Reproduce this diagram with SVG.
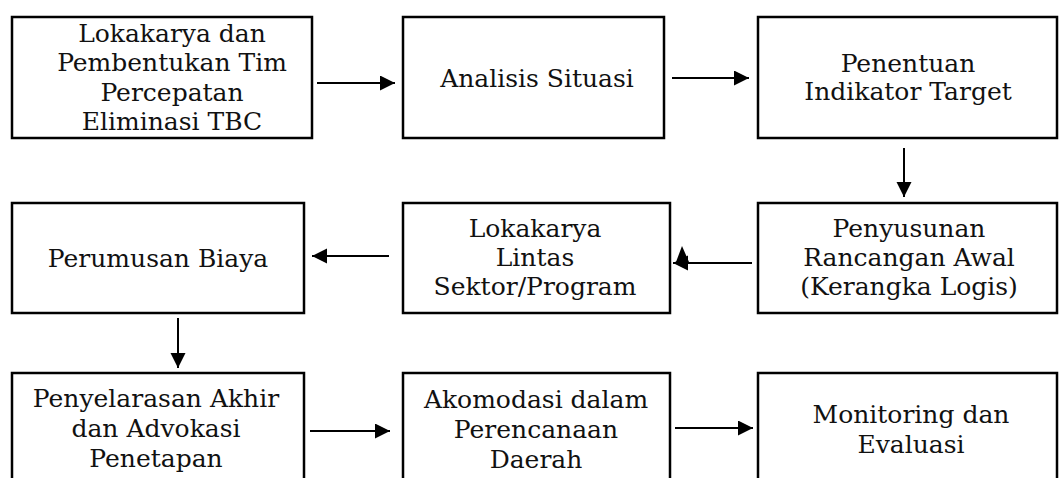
<svg xmlns="http://www.w3.org/2000/svg" width="1061" height="478" viewBox="0 0 1061 478">
<style>
.box{fill:#fff;stroke:#000;stroke-width:2.5}
.t{font-family:"DejaVu Serif","Liberation Serif",serif;font-size:25px;fill:#111;text-anchor:middle}
.c{stroke:#000;stroke-width:2;fill:none;marker-end:url(#ah)}
</style>
<defs>
<marker id="ah" markerUnits="userSpaceOnUse" markerWidth="16" markerHeight="16" refX="15" refY="7.5" orient="auto">
<path d="M0,0 L15,7.5 L0,15 z" fill="#000"/>
</marker>
</defs>
<rect width="1061" height="478" fill="#fff"/>
<g id="n1"><rect class="box" x="12" y="17" width="300" height="121"/>
<text class="t"><tspan x="172" y="42">Lokakarya dan</tspan><tspan x="172" y="71">Pembentukan Tim</tspan><tspan x="172" y="101">Percepatan</tspan><tspan x="172" y="130">Eliminasi TBC</tspan></text></g>
<g id="n2"><rect class="box" x="403" y="17" width="261" height="121"/>
<text class="t"><tspan x="537" y="87">Analisis Situasi</tspan></text></g>
<g id="n3"><rect class="box" x="758" y="17" width="299" height="121"/>
<text class="t"><tspan x="908" y="72">Penentuan</tspan><tspan x="908" y="100">Indikator Target</tspan></text></g>
<g id="n4"><rect class="box" x="12" y="203" width="292" height="110"/>
<text class="t"><tspan x="158" y="267">Perumusan Biaya</tspan></text></g>
<g id="n5"><rect class="box" x="403" y="203" width="267" height="110"/>
<text class="t"><tspan x="535" y="237">Lokakarya</tspan><tspan x="535" y="266">Lintas</tspan><tspan x="535" y="295">Sektor/Program</tspan></text></g>
<g id="n6"><rect class="box" x="758" y="203" width="299" height="110"/>
<text class="t"><tspan x="909" y="237">Penyusunan</tspan><tspan x="909" y="266">Rancangan Awal</tspan><tspan x="909" y="295">(Kerangka Logis)</tspan></text></g>
<g id="n7"><rect class="box" x="12" y="373" width="292" height="130"/>
<text class="t"><tspan x="156" y="407">Penyelarasan Akhir</tspan><tspan x="156" y="437">dan Advokasi</tspan><tspan x="156" y="467">Penetapan</tspan></text></g>
<g id="n8"><rect class="box" x="403" y="373" width="267" height="130"/>
<text class="t"><tspan x="536" y="408">Akomodasi dalam</tspan><tspan x="536" y="438">Perencanaan</tspan><tspan x="536" y="468">Daerah</tspan></text></g>
<g id="n9"><rect class="box" x="758" y="373" width="299" height="130"/>
<text class="t"><tspan x="911" y="423">Monitoring dan</tspan><tspan x="911" y="453">Evaluasi</tspan></text></g>
<g id="connectors">
<line class="c" x1="317" y1="83" x2="395" y2="83"/>
<line class="c" x1="672" y1="78" x2="749" y2="78"/>
<line class="c" x1="904" y1="148" x2="904" y2="197"/>
<line class="c" x1="752" y1="263" x2="673" y2="263"/>
<polygon points="682,246 676,262 689,262" fill="#000"/>
<line class="c" x1="389" y1="256" x2="312" y2="256"/>
<line class="c" x1="178" y1="318" x2="178" y2="368"/>
<line class="c" x1="310" y1="431" x2="390" y2="431"/>
<line class="c" x1="675" y1="428" x2="753" y2="428"/>
</g>
</svg>
